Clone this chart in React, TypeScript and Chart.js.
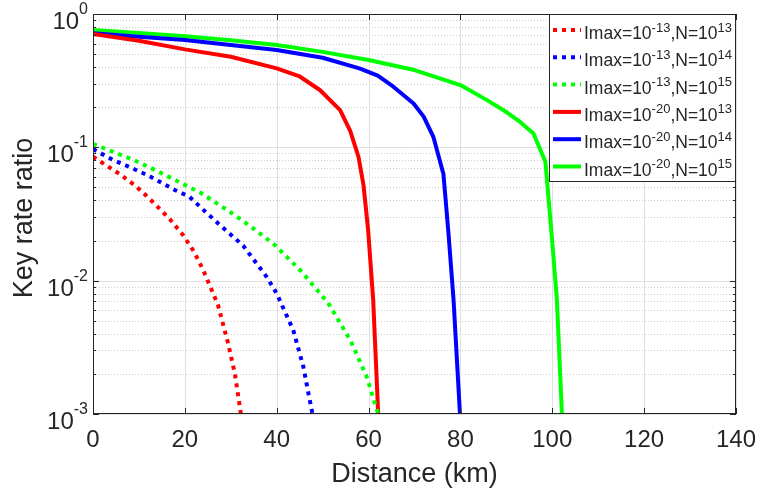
import React, { useEffect, useRef } from 'react';
import { Chart, registerables } from 'chart.js';

Chart.register(...registerables);

// ---------- data ----------
const xTickValues = [0, 20, 40, 60, 80, 100, 120, 140];
const yTickExponents = [0, -1, -2, -3];

const legendImaxExp = ['-13', '-13', '-13', '-20', '-20', '-20'];
const legendNExp = ['13', '14', '15', '13', '14', '15'];

// Imax=1e-13, N=1e13 (dotted red)
const distA = [0, 5.8, 9.3, 12.3, 16.7, 19.6, 22, 24, 27.2, 29.4, 30.9, 32.2, 32.7];
const rateA = [0.085, 0.063, 0.0513, 0.0412, 0.029, 0.022, 0.0165, 0.012, 0.0066, 0.0034, 0.002, 0.001, 0.0007];
// Imax=1e-13, N=1e14 (dotted blue)
const distB = [0, 4.2, 8.1, 12.2, 17.8, 21, 24.7, 28, 32.7, 37.8, 40, 43.6, 45.8, 46.9, 47.8, 48.3];
const rateB = [0.097, 0.081, 0.0708, 0.061, 0.0479, 0.0426, 0.0323, 0.0255, 0.0183, 0.0107, 0.008, 0.00426, 0.00226, 0.00143, 0.001, 0.0008];
// Imax=1e-13, N=1e15 (dotted green)
const distC = [0, 4.3, 8.4, 12.3, 18.2, 23.6, 30.9, 35, 39.6, 45.4, 51.2, 56, 59.6, 62.1, 62.6];
const rateC = [0.106, 0.0927, 0.0817, 0.0708, 0.0562, 0.0452, 0.031, 0.0245, 0.0185, 0.0117, 0.0068, 0.0036, 0.0019, 0.001, 0.0008];
// Imax=1e-20, N=1e13 (solid red)
const distD = [0, 10, 20, 30, 40, 45, 49.4, 53.8, 56, 57.8, 58.9, 59.9, 61, 62.1, 62.6];
const rateD = [0.708, 0.63, 0.543, 0.478, 0.391, 0.34, 0.269, 0.19, 0.133, 0.085, 0.052, 0.024, 0.0072, 0.001, 0.0004];
// Imax=1e-20, N=1e14 (solid blue)
const distE = [0, 10, 20, 30, 40, 50, 58, 62, 65.4, 69.8, 72, 74.1, 76.3, 77.4, 78.5, 79.9, 80.4];
const rateE = [0.716, 0.676, 0.638, 0.585, 0.537, 0.47, 0.391, 0.345, 0.285, 0.213, 0.17, 0.12, 0.063, 0.0226, 0.0072, 0.001, 0.0004];
// Imax=1e-20, N=1e15 (solid green)
const distF = [0, 10, 20, 30, 40, 50, 60, 70, 80, 85.8, 90, 93, 95.9, 98.5, 99.9, 101, 102.1, 102.6];
const rateF = [0.76, 0.72, 0.68, 0.635, 0.585, 0.52, 0.452, 0.38, 0.293, 0.226, 0.184, 0.155, 0.127, 0.078, 0.0214, 0.0072, 0.001, 0.0004];

const seriesDist = [distA, distB, distC, distD, distE, distF];
const seriesRate = [rateA, rateB, rateC, rateD, rateE, rateF];

// ---------- styles ----------
const COLORS = ['#ff0000', '#0000ff', '#00ff00', '#ff0000', '#0000ff', '#00ff00'];
const DOTTED = [true, true, true, false, false, false];
const FONT = '"Liberation Sans", Arial, Helvetica, sans-serif';
const TEXT = '#262626';
const DOT_DASH = [4, 5];

type Part = [string, boolean];

function drawParts(
  ctx: CanvasRenderingContext2D,
  parts: Part[],
  x: number,
  baseY: number,
  supY: number,
  baseSize: number,
  supSize: number,
  align: 'left' | 'right' | 'center'
) {
  const baseFont = `${baseSize}px ${FONT}`;
  const supFont = `${supSize}px ${FONT}`;
  let total = 0;
  const widths = parts.map(([t, sup]) => {
    ctx.font = sup ? supFont : baseFont;
    const w = ctx.measureText(t).width;
    total += w;
    return w;
  });
  let cx = align === 'left' ? x : align === 'right' ? x - total : x - total / 2;
  ctx.textAlign = 'left';
  ctx.textBaseline = 'alphabetic';
  parts.forEach(([t, sup], i) => {
    ctx.font = sup ? supFont : baseFont;
    ctx.fillText(t, cx, sup ? supY : baseY);
    cx += widths[i];
  });
}

const matlabAxes = {
  id: 'matlabAxes',
  beforeDatasetsDraw(chart: any) {
    const { ctx, chartArea: a, scales } = chart;
    const xs = scales.x;
    const ys = scales.y;
    ctx.save();
    // minor dotted grid on y
    ctx.lineWidth = 1;
    ctx.strokeStyle = '#cfcfcf';
    ctx.setLineDash([1, 2]);
    for (let e = -3; e < 0; e++) {
      for (let m = 2; m <= 9; m++) {
        const py = Math.round(ys.getPixelForValue(m * Math.pow(10, e))) + 0.5;
        ctx.beginPath();
        ctx.moveTo(a.left, py);
        ctx.lineTo(a.right, py);
        ctx.stroke();
      }
    }
    // major grid
    ctx.setLineDash([]);
    ctx.strokeStyle = '#e0e0e0';
    xTickValues.forEach((v) => {
      const px = Math.round(xs.getPixelForValue(v)) + 0.5;
      ctx.beginPath();
      ctx.moveTo(px, a.top);
      ctx.lineTo(px, a.bottom);
      ctx.stroke();
    });
    yTickExponents.forEach((e) => {
      const py = Math.round(ys.getPixelForValue(Math.pow(10, e))) + 0.5;
      ctx.beginPath();
      ctx.moveTo(a.left, py);
      ctx.lineTo(a.right, py);
      ctx.stroke();
    });
    ctx.restore();
  },
  afterDatasetsDraw(chart: any) {
    const { ctx, chartArea: a, scales } = chart;
    const xs = scales.x;
    const ys = scales.y;
    ctx.save();
    ctx.strokeStyle = TEXT;
    ctx.lineWidth = 1;
    ctx.setLineDash([]);
    // frame
    ctx.strokeRect(a.left + 0.5, a.top + 0.5, a.right - a.left - 1, a.bottom - a.top - 1);
    // x ticks (bottom & top, inward)
    xTickValues.forEach((v) => {
      const px = Math.round(xs.getPixelForValue(v)) + 0.5;
      ctx.beginPath();
      ctx.moveTo(px, a.bottom);
      ctx.lineTo(px, a.bottom - 6);
      ctx.moveTo(px, a.top);
      ctx.lineTo(px, a.top + 6);
      ctx.stroke();
    });
    // y ticks major & minor
    for (let e = -3; e <= 0; e++) {
      for (let m = 1; m <= 9; m++) {
        const v = m * Math.pow(10, e);
        if (v > 1) break;
        const py = Math.round(ys.getPixelForValue(v)) + 0.5;
        const len = m === 1 ? 6 : 3;
        ctx.beginPath();
        ctx.moveTo(a.left, py);
        ctx.lineTo(a.left + len, py);
        ctx.moveTo(a.right, py);
        ctx.lineTo(a.right - len, py);
        ctx.stroke();
      }
    }
    // tick labels
    ctx.fillStyle = TEXT;
    ctx.font = `24px ${FONT}`;
    ctx.textAlign = 'center';
    ctx.textBaseline = 'alphabetic';
    xTickValues.forEach((v) => {
      ctx.fillText(String(v), xs.getPixelForValue(v), a.bottom + 33);
    });
    yTickExponents.forEach((e) => {
      const py = ys.getPixelForValue(Math.pow(10, e));
      drawParts(ctx, [['10', false], [String(e), true]], a.left - 5, py + 15, py, 24, 16, 'right');
    });
    // axis labels
    ctx.font = `27px ${FONT}`;
    ctx.textAlign = 'center';
    ctx.fillText('Distance (km)', (a.left + a.right) / 2, a.bottom + 68);
    ctx.save();
    ctx.translate(32, (a.top + a.bottom) / 2 + 4);
    ctx.rotate(-Math.PI / 2);
    ctx.fillText('Key rate ratio', 0, 0);
    ctx.restore();

    // legend
    const lw = 187;
    const lh = 168;
    const lx = a.right - lw;
    const ly = a.top;
    ctx.fillStyle = '#ffffff';
    ctx.fillRect(lx, ly, lw, lh);
    ctx.strokeStyle = TEXT;
    ctx.lineWidth = 1;
    ctx.strokeRect(lx + 0.5, ly + 0.5, lw - 1, lh - 1);
    for (let i = 0; i < 6; i++) {
      const cy = ly + 16 + i * 27.3;
      ctx.save();
      ctx.strokeStyle = COLORS[i];
      ctx.lineWidth = 4;
      ctx.lineCap = 'butt';
      ctx.setLineDash(DOTTED[i] ? DOT_DASH : []);
      ctx.beginPath();
      ctx.moveTo(lx + 4, cy);
      ctx.lineTo(lx + 32, cy);
      ctx.stroke();
      ctx.restore();
      ctx.fillStyle = TEXT;
      drawParts(
        ctx,
        [
          ['Imax=10', false],
          [legendImaxExp[i], true],
          [',N=10', false],
          [legendNExp[i], true],
        ],
        lx + 35,
        cy + 9,
        cy + 1.5,
        17.5,
        13,
        'left'
      );
    }
    ctx.restore();
  },
};

export default function App() {
  const canvasRef = useRef<HTMLCanvasElement | null>(null);

  useEffect(() => {
    const canvas = canvasRef.current;
    if (!canvas) return;
    const datasets = seriesDist.map((dist, i) => ({
      label: `Imax=10^${legendImaxExp[i]},N=10^${legendNExp[i]}`,
      data: dist.map((d, j) => ({ x: d, y: seriesRate[i][j] })),
      borderColor: COLORS[i],
      backgroundColor: COLORS[i],
      borderWidth: 4,
      borderDash: DOTTED[i] ? DOT_DASH : [],
      borderCapStyle: 'butt' as const,
      borderJoinStyle: (DOTTED[i] ? 'miter' : 'round') as any,
      pointRadius: 0,
      tension: 0,
      fill: false,
      clip: 0,
    }));
    const chart = new Chart(canvas, {
      type: 'line',
      data: { datasets },
      options: {
        animation: false,
        responsive: false,
        devicePixelRatio: 1,
        layout: { padding: { left: 93, right: 22, top: 14, bottom: 79 } },
        plugins: { legend: { display: false }, tooltip: { enabled: false } },
        scales: {
          x: { type: 'linear', min: 0, max: 140, display: false },
          y: { type: 'logarithmic', min: 0.001, max: 1, display: false },
        },
      },
      plugins: [matlabAxes],
    } as any);
    return () => chart.destroy();
  }, []);

  return (
    <div style={{ position: 'absolute', left: 0, top: 0, width: 758, height: 493, background: '#ffffff' }}>
      <canvas ref={canvasRef} width={758} height={493} />
    </div>
  );
}
